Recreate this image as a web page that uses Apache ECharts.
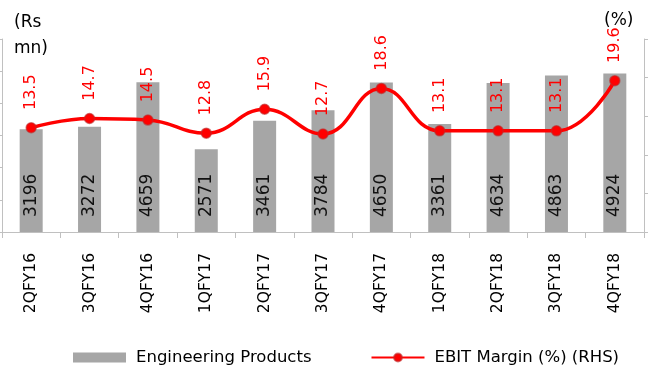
<!DOCTYPE html>
<html>
<head>
<meta charset="utf-8">
<script src="https://cdn.jsdelivr.net/npm/echarts@6/dist/echarts.min.js"></script>
<style>
html,body{margin:0;padding:0;background:#fff;}
#c{width:648px;height:368px;}
</style>
</head>
<body>
<div id="c"></div>
<script>
var categories = ['2QFY16','3QFY16','4QFY16','1QFY17','2QFY17','3QFY17','4QFY17','1QFY18','2QFY18','3QFY18','4QFY18'];
var engineeringProducts = [3196, 3272, 4659, 2571, 3461, 3784, 4650, 3361, 4634, 4863, 4924];
var ebitMargin = [13.5, 14.7, 14.5, 12.8, 15.9, 12.7, 18.6, 13.1, 13.1, 13.1, 19.6];
var barName = 'Engineering Products';
var lineName = 'EBIT Margin (%) (RHS)';

var FONT = 'DejaVu Sans';
var chart = echarts.init(document.getElementById('c'), null, {renderer: 'canvas'});
chart.setOption({
  animation: false,
  textStyle: {fontFamily: FONT},
  title: [
    {text: '(Rs\nmn)', left: 9, top: 5, textStyle: {fontFamily: FONT, fontSize: 17, fontWeight: 'normal', color: '#000', lineHeight: 26}},
    {text: '(%)', left: 599, top: 7, textStyle: {fontFamily: FONT, fontSize: 17, fontWeight: 'normal', color: '#000'}}
  ],
  grid: {left: 2, right: 4, top: 39, bottom: 136, containLabel: false},
  legend: {
    left: 68, top: 344,
    itemGap: 59,
    itemWidth: 53, itemHeight: 10,
    textStyle: {fontFamily: FONT, fontSize: 16.5, color: '#000', padding: [0, 0, 0, 5]},
    data: [{name: barName, icon: 'rect'}, {name: lineName}]
  },
  xAxis: {
    type: 'category',
    data: categories,
    axisLine: {lineStyle: {color: '#c0c0c0', width: 1}},
    axisTick: {show: true, length: 6, lineStyle: {color: '#c0c0c0'}},
    axisLabel: {rotate: 90, margin: 21, fontFamily: FONT, fontSize: 15.5, color: '#000'}
  },
  yAxis: [
    {type: 'value', min: 0, max: 6000, interval: 1000, position: 'left',
     axisLine: {show: true, lineStyle: {color: '#c0c0c0'}},
     axisTick: {show: true, length: 3, lineStyle: {color: '#c0c0c0'}},
     axisLabel: {show: false}, splitLine: {show: false}},
    {type: 'value', min: 0, max: 25, interval: 5, position: 'right',
     axisLine: {show: true, lineStyle: {color: '#c0c0c0'}},
     axisTick: {show: true, length: 4, lineStyle: {color: '#c0c0c0'}},
     axisLabel: {show: false}, splitLine: {show: false}}
  ],
  series: [
    {
      name: barName, type: 'bar', yAxisIndex: 0, data: engineeringProducts,
      barWidth: 23, z: 2,
      itemStyle: {color: '#a6a6a6'},
      label: {show: true, position: 'insideBottom', distance: 15, rotate: 90,
              align: 'left', verticalAlign: 'middle',
              fontFamily: FONT, fontSize: 17, color: '#111'}
    },
    {
      name: lineName, type: 'line', yAxisIndex: 1, data: ebitMargin,
      smooth: 0.45, z: 3,
      symbol: 'circle', symbolSize: 10,
      lineStyle: {color: '#ff0000', width: 3.5},
      itemStyle: {color: '#ff0000', borderColor: 'rgba(190,40,40,0.6)', borderWidth: 1.5},
      label: {show: true, position: 'top', distance: 12, rotate: 90,
              align: 'left', verticalAlign: 'middle',
              fontFamily: FONT, fontSize: 16, color: '#ff0000'}
    }
  ]
});
</script>
</body>
</html>
